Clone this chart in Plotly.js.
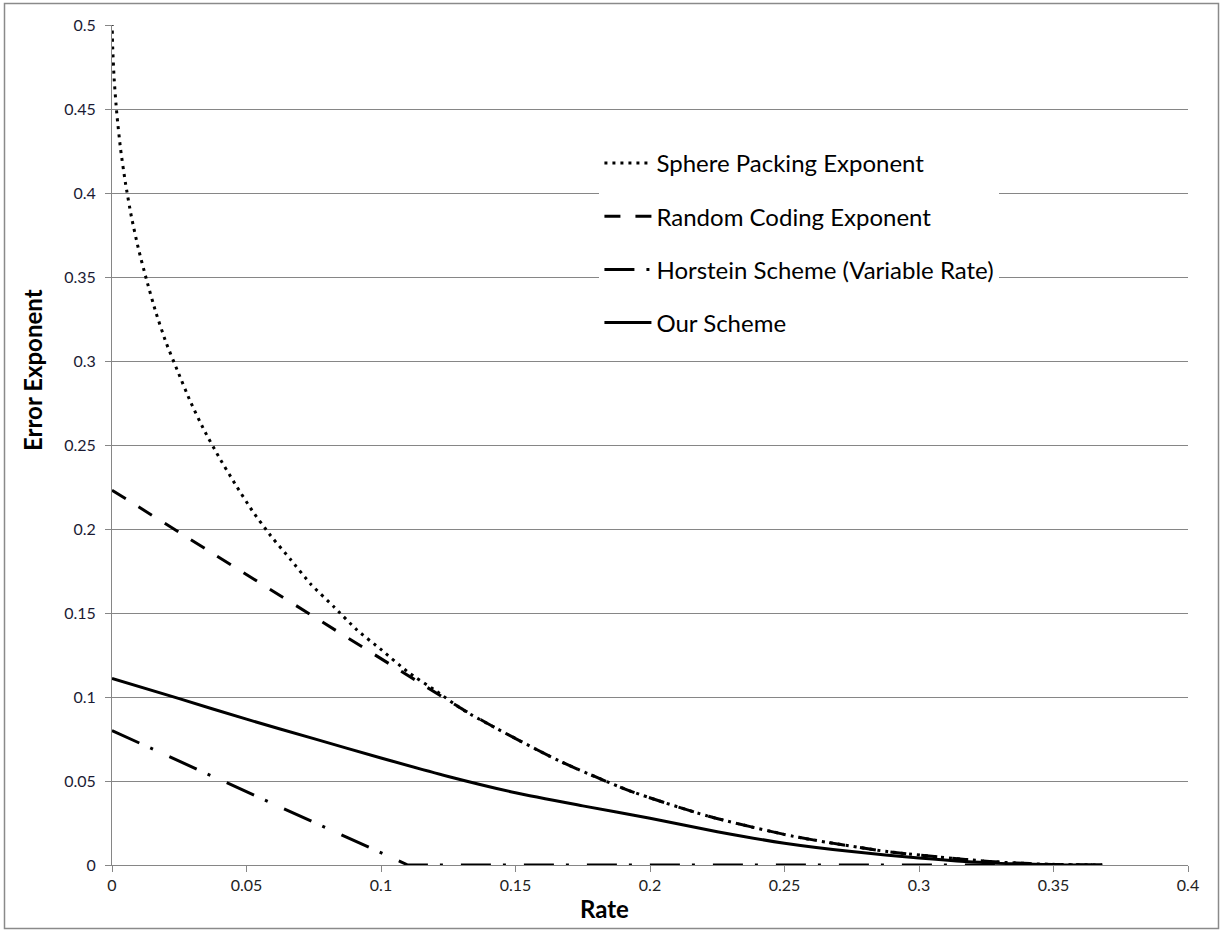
<!DOCTYPE html>
<html>
<head>
<meta charset="utf-8">
<script src="https://cdn.plot.ly/plotly-3.0.1.min.js"></script>
<style>html,body{margin:0;padding:0;background:#fff}#chart{width:1222px;height:931px}</style>
</head>
<body>
<div id="chart"></div>
<script>
// Sphere Packing Exponent
const rateSphere = [0, 0.0002, 0.0008, 0.0018, 0.0032, 0.0050, 0.0072, 0.0098, 0.0129, 0.0163, 0.0201, 0.0244, 0.0291, 0.0342, 0.0397, 0.0457, 0.0521, 0.0590, 0.0663, 0.0740, 0.0823, 0.0910, 0.1002, 0.1099, 0.1201, 0.1308, 0.1421, 0.1662, 0.1927, 0.2218, 0.2535, 0.2882, 0.3262, 0.3466, 0.3681];
const expSphere  = [0.511, 0.489, 0.468, 0.447, 0.426, 0.406, 0.386, 0.367, 0.348, 0.329, 0.311, 0.294, 0.276, 0.259, 0.243, 0.227, 0.211, 0.196, 0.182, 0.167, 0.154, 0.140, 0.128, 0.115, 0.104, 0.092, 0.082, 0.062, 0.044, 0.029, 0.017, 0.008, 0.0021, 0.0005, 0];
// Random Coding Exponent
const rateRandom = [0, 0.1308, 0.1421, 0.1662, 0.1927, 0.2218, 0.2535, 0.2882, 0.3262, 0.3466, 0.3681];
const expRandom  = [0.2231, 0.0923, 0.082, 0.062, 0.044, 0.029, 0.017, 0.008, 0.0021, 0.0005, 0];
// Horstein Scheme (Variable Rate)
const rateHorstein = [0, 0.110, 0.3681];
const expHorstein  = [0.080, 0, 0];
// Our Scheme
const rateOurs = [0, 0.025, 0.05, 0.075, 0.1, 0.125, 0.15, 0.175, 0.2, 0.225, 0.25, 0.275, 0.3, 0.325, 0.35, 0.3681];
const expOurs  = [0.111, 0.099, 0.0868, 0.0752, 0.0637, 0.0527, 0.043, 0.0352, 0.0278, 0.0198, 0.0130, 0.0080, 0.0042, 0.0014, 0.0002, 0];

const seriesNames = ["Sphere Packing Exponent", "Random Coding Exponent", "Horstein Scheme (Variable Rate)", "Our Scheme"];
const xTitle = "Rate";
const yTitle = "Error Exponent";

const FONT = "Lato, 'Open Sans', sans-serif";
const traces = [
  {x: rateSphere, y: expSphere, name: seriesNames[0], legendgroup: "a", mode: "lines",
   line: {color: "#000", width: 3, dash: "3px,5px", shape: "spline", smoothing: 0.6}},
  {x: rateRandom, y: expRandom, name: seriesNames[1], legendgroup: "b", mode: "lines",
   line: {color: "#000", width: 3, dash: "16px,15px", shape: "spline", smoothing: 0.6}},
  {x: rateHorstein, y: expHorstein, name: seriesNames[2], legendgroup: "c", mode: "lines",
   line: {color: "#000", width: 3, dash: "30px,12px,3px,18px"}},
  {x: rateOurs, y: expOurs, name: seriesNames[3], legendgroup: "d", mode: "lines",
   line: {color: "#000", width: 3, shape: "spline", smoothing: 0.6}}
];

const axisCol = "#868686";
const layout = {
  width: 1222, height: 931,
  margin: {l: 112, r: 34, t: 25, b: 66},
  paper_bgcolor: "#fff", plot_bgcolor: "#fff",
  font: {family: FONT, color: "#000"},
  showlegend: true,
  legend: {x: 0.453, y: 0.862, xanchor: "left", yanchor: "top", bgcolor: "#fff",
           borderwidth: 0, font: {family: FONT, size: 24, color: "#000"},
           traceorder: "grouped", tracegroupgap: 19, itemwidth: 47},
  xaxis: {range: [0, 0.4], tick0: 0, dtick: 0.05, showgrid: false, zeroline: false,
          showline: true, linecolor: axisCol, linewidth: 1, ticks: "outside", ticklen: 6,
          tickcolor: axisCol, tickfont: {family: FONT, size: 16, color: "#222"}, fixedrange: true},
  yaxis: {range: [0, 0.5], tick0: 0, dtick: 0.05, showgrid: true, gridcolor: axisCol, gridwidth: 1,
          zeroline: false, showline: true, linecolor: axisCol, linewidth: 1, ticks: "outside",
          ticklen: 6, tickcolor: axisCol, tickfont: {family: FONT, size: 16, color: "#1a1a33"},
          ticklabelstandoff: 6, fixedrange: true},
  annotations: [
    {text: "<b>" + xTitle + "</b>", xref: "paper", yref: "paper", x: (604 - 112) / 1076,
     y: (865 - 908) / 840, xanchor: "center", yanchor: "middle", showarrow: false,
     font: {family: FONT, size: 24, color: "#000"}},
    {text: "<b>" + yTitle + "</b>", xref: "paper", yref: "paper", x: (32 - 112) / 1076,
     y: (865 - 370) / 840, xanchor: "center", yanchor: "middle", showarrow: false, textangle: -90,
     font: {family: FONT, size: 24, color: "#000"}}
  ],
  shapes: [
    {type: "rect", xref: "paper", yref: "paper", x0: (4.5 - 112) / 1076, x1: (1218.5 - 112) / 1076,
     y0: (865 - 928.5) / 840, y1: (865 - 3.5) / 840, line: {color: "#8a8a8a", width: 1.5}, layer: "below"}
  ]
};

Plotly.newPlot("chart", traces, layout, {displayModeBar: false, staticPlot: true});
</script>
</body>
</html>
